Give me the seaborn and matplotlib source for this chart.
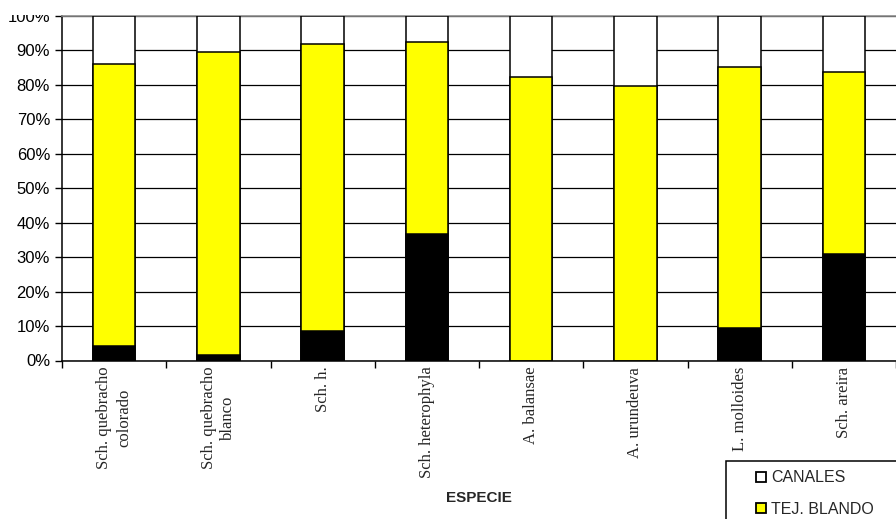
import numpy as np
import pandas as pd
import matplotlib
matplotlib.use("Agg")
import matplotlib.pyplot as plt
from matplotlib.lines import Line2D
from matplotlib.patches import Rectangle
import seaborn as sns

# ---- data (percent of area) ----
especies = ["Sch. quebracho\ncolorado", "Sch. quebracho\nblanco", "Sch. h.",
            "Sch. heterophyla", "A. balansae", "A. urundeuva",
            "L. molloides", "Sch. areira"]
fibras = [4.2, 1.7, 8.7, 36.8, 0.0, 0.0, 9.4, 30.8]          # black
tej_blando = [81.8, 87.8, 83.1, 55.6, 82.4, 79.6, 75.9, 52.8]  # yellow
canales = [14.0, 10.5, 8.2, 7.6, 17.6, 20.4, 14.7, 16.4]      # white
y_ticks = [0, 10, 20, 30, 40, 50, 60, 70, 80, 90, 100]
y_tick_labels = [f"{v}%" for v in y_ticks]
legend_names = ["CANALES", "TEJ. BLANDO"]

df = pd.DataFrame({"especie": especies, "fibras": fibras,
                   "tej_blando": tej_blando, "canales": canales})
df["cum_blando"] = df["fibras"] + df["tej_blando"]
df["cum_canales"] = df["cum_blando"] + df["canales"]

sns.set_style("white")
plt.rcParams["font.family"] = ["Liberation Sans", "DejaVu Sans"]

W, H = 896, 519
fig = plt.figure(figsize=(W / 100, H / 100), dpi=100)
ax_left, ax_right, ax_top, ax_bottom = 62, 896, 16, 360.5
ax = fig.add_axes([ax_left / W, 1 - ax_bottom / H,
                   (ax_right - ax_left) / W, (ax_bottom - ax_top) / H])

bar_kw = dict(errorbar=None, edgecolor="black", linewidth=1.1, width=0.41,
              ax=ax, order=especies, saturation=1)
sns.barplot(data=df, x="especie", y="cum_canales", color="white", **bar_kw)
sns.barplot(data=df, x="especie", y="cum_blando", color="#FFFF00", **bar_kw)
sns.barplot(data=df, x="especie", y="fibras", color="black", **bar_kw)
for p in ax.patches:
    p.set_zorder(3)

ax.set_ylim(0, 100)
ax.set_xlim(-0.5, len(especies) - 0.5)
ax.set_yticks(y_ticks)
ax.set_yticklabels(y_tick_labels, fontsize=12)
ax.yaxis.grid(True, color="black", linewidth=0.9)
ax.set_axisbelow(True)

# x ticks: marks at category boundaries, labels at centers
ax.set_xticks(np.arange(-0.5, len(especies), 1.0))
ax.set_xticklabels([""] * (len(especies) + 1))
ax.set_xticks(np.arange(len(especies)), minor=True)
ax.set_xticklabels(especies, minor=True, rotation=90, fontsize=12,
                   family=["Liberation Serif", "DejaVu Serif"], linespacing=1.3)
ax.tick_params(axis="x", which="major", direction="out", length=5, width=1,
               color="black", bottom=True)
ax.tick_params(axis="x", which="minor", length=0, pad=4.5, bottom=True)
ax.tick_params(axis="y", direction="out", length=5, width=1, color="black",
               left=True, pad=3.6, labelcolor="black")

for s in ["left", "bottom"]:
    ax.spines[s].set_color("black")
    ax.spines[s].set_linewidth(1.1)
ax.spines["right"].set_visible(False)
ax.spines["top"].set_color("#8c8c8c")
ax.spines["top"].set_linewidth(1.2)

ax.set_ylabel("")
ax.set_xlabel("ESPECIE", fontsize=11, fontweight="bold")
ax.xaxis.label.set_va("center")
ax.xaxis.set_label_coords(0.5, (ax_bottom - 497.7) / (ax_bottom - ax_top))

# white strip above the plot area (reference is cropped there)
fig.add_artist(Rectangle((0, 1 - (ax_top - 0.8) / H), 1, 1, transform=fig.transFigure,
                         facecolor="white", edgecolor="none", zorder=10))

# legend box (runs off the figure, as in the reference)
fig.add_artist(Rectangle((726 / W, -0.1), 0.3, 0.1 + (H - 460.5) / H,
                         transform=fig.transFigure, facecolor="white",
                         edgecolor="black", linewidth=1.1, zorder=15))
handles = [
    Line2D([], [], marker="s", linestyle="none", markersize=7.5,
           markerfacecolor="white", markeredgecolor="black", markeredgewidth=1.3),
    Line2D([], [], marker="s", linestyle="none", markersize=7.5,
           markerfacecolor="#FFFF00", markeredgecolor="black", markeredgewidth=1.3),
]
leg = fig.legend(handles, legend_names, loc="upper left",
                 bbox_to_anchor=(726 / W, 1 - 460.5 / H), fontsize=11.5,
                 frameon=False, handlelength=3.1, handletextpad=-0.9,
                 borderpad=0.62, labelspacing=1.02, borderaxespad=0)
leg.set_zorder(20)

fig.savefig("out.png", dpi=100)
